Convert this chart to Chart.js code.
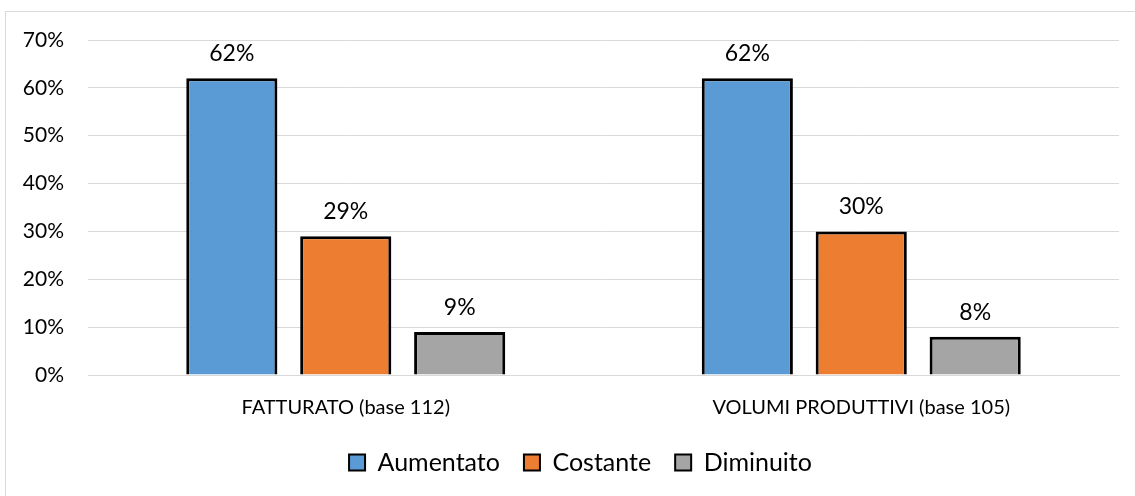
<!DOCTYPE html>
<html>
<head>
<meta charset="utf-8">
<script src="https://cdn.jsdelivr.net/npm/chart.js@4"></script>
<style>
  html, body { margin: 0; padding: 0; background: #fff; overflow: hidden; }
  #frame {
    position: absolute; left: 5px; top: 11px;
    width: 1160px; height: 500px;
    border: 1px solid #d9d9d9; box-sizing: border-box;
  }
  #frame canvas { position: absolute; left: 0; top: 0; }
</style>
</head>
<body>
<div id="frame"><canvas id="chart" width="1140" height="488"></canvas></div>
<script>
/* ── Data ── */
const categories = ['FATTURATO (base 112)', 'VOLUMI PRODUTTIVI (base 105)'];
const aumentato  = [62, 62];
const costante   = [29, 30];
const diminuito  = [9, 8];
const seriesNames  = ['Aumentato', 'Costante', 'Diminuito'];
const seriesColors = ['#5B9BD5', '#ED7D31', '#A5A5A5'];

const FONT = 'Lato, "Open Sans", sans-serif';
const TEXT = '#000';
const GRID = '#d9d9d9';

/* Writes the value (with %) above each bar */
const valueLabels = {
  id: 'valueLabels',
  afterDatasetsDraw(chart) {
    const { ctx } = chart;
    ctx.save();
    ctx.font = '23px ' + FONT;
    ctx.fillStyle = TEXT;
    ctx.textAlign = 'center';
    ctx.textBaseline = 'bottom';
    chart.data.datasets.forEach((ds, i) => {
      chart.getDatasetMeta(i).data.forEach((bar, j) => {
        ctx.fillText(ds.data[j] + '%', bar.x, bar.y - 13);
      });
    });
    ctx.restore();
  },
};

/* Legend sits centred on the whole frame and a bit closer to the axis labels */
const legendShift = {
  id: 'legendShift',
  afterLayout(chart) {
    const lg = chart.legend;
    if (!lg) return;
    lg.left += 18;
    lg.right += 18;
    lg.top -= 15;
    lg.bottom -= 15;
  },
};

const datasets = [aumentato, costante, diminuito].map((data, i) => ({
  label: seriesNames[i],
  data,
  backgroundColor: seriesColors[i],
  borderColor: '#000',
  borderWidth: 3,
  borderSkipped: 'start',
  categoryPercentage: 0.663,
  barPercentage: 0.8,
}));

new Chart(document.getElementById('chart'), {
  type: 'bar',
  data: { labels: categories, datasets },
  plugins: [valueLabels, legendShift],
  options: {
    responsive: false,
    animation: false,
    layout: { padding: { top: 28, right: 27, bottom: 0, left: 0 } },
    plugins: {
      tooltip: { enabled: false },
      legend: {
        position: 'bottom',
        labels: {
          color: TEXT,
          font: { family: FONT, size: 25 },
          boxWidth: 16,
          boxHeight: 16,
          padding: 24,
          generateLabels: chart => chart.data.datasets.map((ds, i) => ({
            text: ds.label,
            fillStyle: ds.backgroundColor,
            strokeStyle: '#000',
            lineWidth: 2,
            datasetIndex: i,
          })),
        },
      },
    },
    scales: {
      x: {
        grid: { display: false, drawTicks: false },
        border: { color: GRID, width: 1 },
        ticks: { color: TEXT, font: { family: FONT, size: 20 }, padding: 21 },
      },
      y: {
        min: 0, max: 70,
        afterFit: s => { s.width = 82; },
        grid: { color: GRID, lineWidth: 1, drawTicks: true, tickLength: 24, tickColor: 'rgba(0,0,0,0)' },
        border: { display: false },
        ticks: {
          stepSize: 10,
          color: TEXT,
          font: { family: FONT, size: 21 },
          padding: 0,
          callback: v => v + '%',
        },
      },
    },
  },
});
</script>
</body>
</html>
